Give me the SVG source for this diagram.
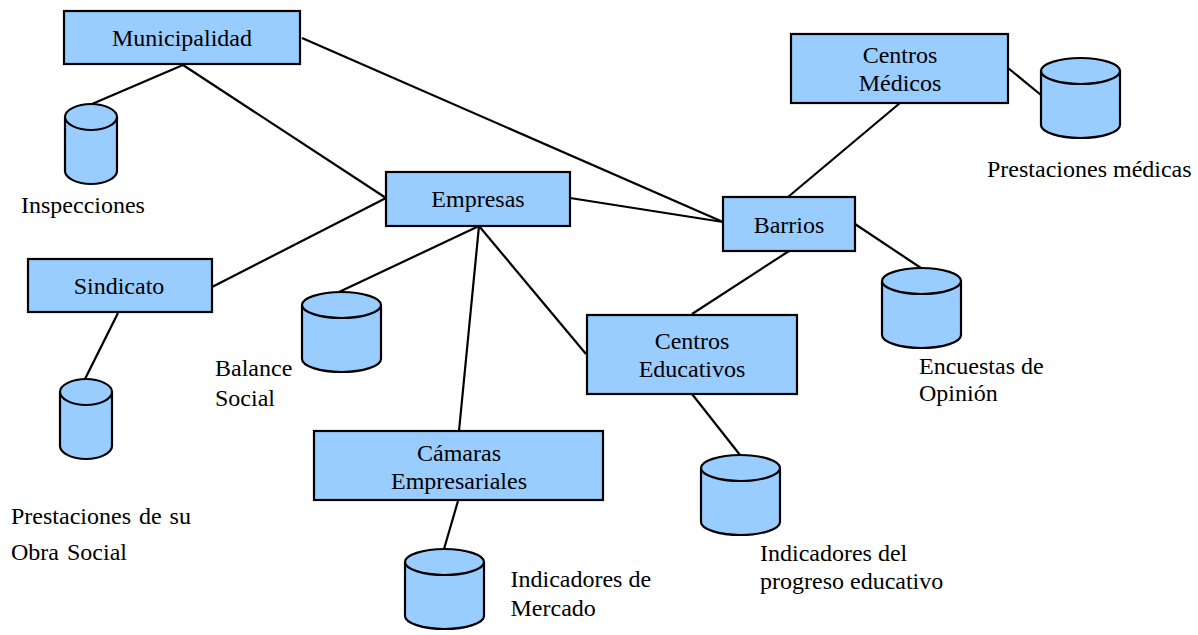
<svg xmlns="http://www.w3.org/2000/svg" width="1198" height="635" viewBox="0 0 1198 635">
<defs>
<style>
.n{fill:#99ccff;stroke:#000;stroke-width:2.2}
.c{fill:none;stroke:#000;stroke-width:2.2}
text{font-family:"Liberation Serif","Times New Roman",serif;font-size:24px;fill:#000}
.m{text-anchor:middle}
.w{word-spacing:2px}
</style>
<g id="cyl"><path class="n" d="M0 13V67C0 74 12 80 26 80S52 74 52 67V13C52 6 40 0 26 0S0 6 0 13C0 20 12 26 26 26S52 20 52 13"/></g>
<g id="cyl2"><path class="n" d="M0 13V67C0 74 17.700 80 39.500 80S79 74 79 67V13C79 6 61.300 0 39.500 0S0 6 0 13C0 20 17.700 26 39.500 26S79 20 79 13"/></g>
</defs>
<rect width="1198" height="635" fill="#fff"/>
<g id="connectors" class="c">
<path class="c" d="M183 65L92 104"/>
<path class="c" d="M183 65L386 198"/>
<path class="c" d="M302 38L723 222"/>
<path class="c" d="M386 198L212 287"/>
<path class="c" d="M118 313L85 379"/>
<path class="c" d="M570 198L723 222"/>
<path class="c" d="M479 226L339 292"/>
<path class="c" d="M479 226L459 431"/>
<path class="c" d="M479 226L586 354"/>
<path class="c" d="M458 501L444 549"/>
<path class="c" d="M789 251L692 314"/>
<path class="c" d="M692 394L740 455"/>
<path class="c" d="M855 224L921 268"/>
<path class="c" d="M788 197L900 103"/>
<path class="c" d="M1008 68L1041 95"/>
</g>
<g id="municipalidad"><rect class="n" x="64" y="11" width="236" height="53"/><text class="m" x="182" y="46">Municipalidad</text></g>
<g id="centros-medicos"><rect class="n" x="791" y="34" width="217" height="69"/><text class="m" x="900" y="63">Centros</text><text class="m" x="900" y="91">Médicos</text></g>
<g id="empresas"><rect class="n" x="386" y="172" width="184" height="54"/><text class="m" x="478" y="207">Empresas</text></g>
<g id="barrios"><rect class="n" x="723" y="197" width="132" height="54"/><text class="m" x="789" y="233">Barrios</text></g>
<g id="sindicato"><rect class="n" x="28" y="259" width="184" height="53"/><text class="m" x="119" y="294">Sindicato</text></g>
<g id="centros-educativos"><rect class="n" x="587" y="315" width="210" height="79"/><text class="m" x="692" y="349">Centros</text><text class="m" x="692" y="377">Educativos</text></g>
<g id="camaras"><rect class="n" x="314" y="431" width="289" height="69"/><text class="m" x="459" y="461">Cámaras</text><text class="m" x="459" y="489">Empresariales</text></g>
<g id="db-inspecciones"><use href="#cyl" x="65" y="104"/><text x="21" y="213">Inspecciones</text></g>
<g id="db-obra-social"><use href="#cyl" x="60" y="379"/><text class="w" x="11" y="524">Prestaciones de su</text><text class="w" x="11" y="560">Obra Social</text></g>
<g id="db-balance"><use href="#cyl2" x="302" y="292"/><text x="215" y="376">Balance</text><text x="215" y="406">Social</text></g>
<g id="db-mercado"><use href="#cyl2" x="405" y="549"/><text x="510.500" y="587">Indicadores de</text><text x="510.500" y="616">Mercado</text></g>
<g id="db-educativo"><use href="#cyl2" x="701" y="455"/><text x="760" y="561">Indicadores del</text><text x="760" y="589">progreso educativo</text></g>
<g id="db-opinion"><use href="#cyl2" x="882" y="268"/><text x="919" y="374">Encuestas de</text><text x="919" y="401">Opinión</text></g>
<g id="db-medicas"><use href="#cyl2" x="1041" y="58"/><text x="987" y="177">Prestaciones médicas</text></g>
</svg>
